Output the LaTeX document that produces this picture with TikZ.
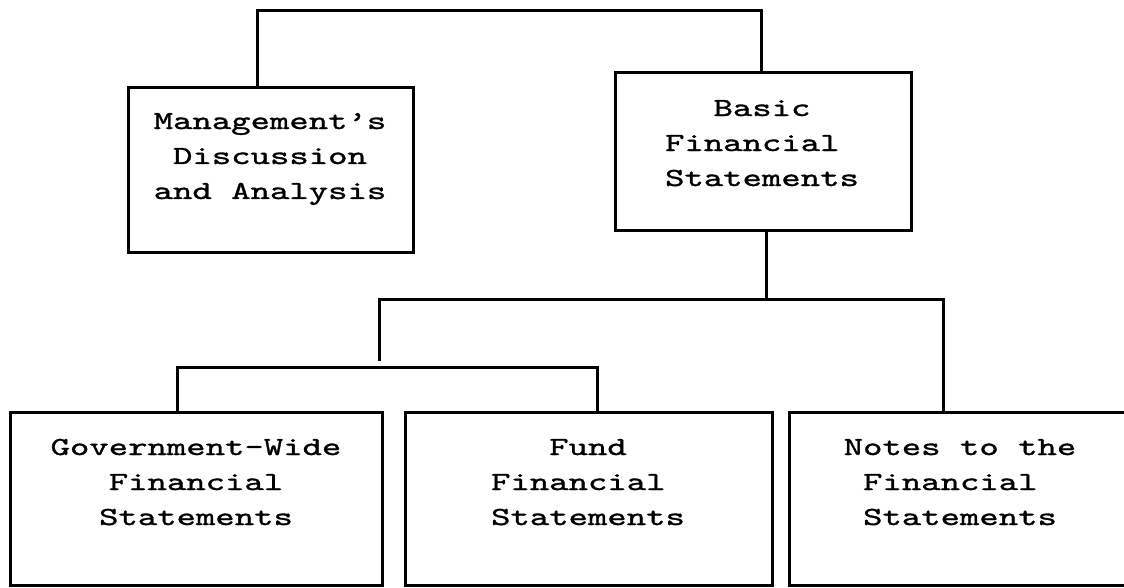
\documentclass[tikz,border=0pt]{standalone}
\usepackage{fontspec}
\newfontfamily\monoft{lmmono10-regular.otf}[FakeStretch=1.42,FakeBold=1.2]
\begin{document}
\begin{tikzpicture}[x=1pt,y=-1pt,
  box/.style={draw, line width=3pt, rectangle, inner sep=0pt},
  txt/.style={font=\monoft\fontsize{26}{35}\selectfont, align=center, inner sep=0pt, anchor=base},
  conn/.style={line width=3pt}]
\useasboundingbox (0,0) rectangle (1124,588);
\fill[white] (0,0) rectangle (1124,588);
% boxes
\node[box, minimum width=285pt, minimum height=164pt] (mda) at (270.5,170) {};
\node[box, minimum width=296pt, minimum height=157pt] (bfs) at (763,151.5) {};
\node[box, minimum width=372pt, minimum height=173pt] (gov) at (196,498.5) {};
\node[box, minimum width=367pt, minimum height=173pt] (fund) at (588.5,498.5) {};
\node[box, minimum width=342pt, minimum height=173pt] (notes) at (960,498.5) {};
% texts (anchored at the baseline of the last line)
\node[txt] (mdat) at (270,199) {Management’s\\Discussion\\and Analysis};
\node[txt] (bfst) at (762,186) {Basic\\Financial\hphantom{x}\\Statements};
\node[txt] (govt) at (196,525) {Government-Wide\\Financial\\Statements};
\node[txt] (fundt) at (588,525) {Fund\\Financial\hphantom{x}\\Statements};
\node[txt] (notest) at (960,525) {Notes to the\\Financial\hphantom{x}\\Statements};
% connector corners
\coordinate (t1) at (257,11);
\coordinate (t2) at (761,11);
\coordinate (b) at (766,299);
\coordinate (h1) at (379,299);
\coordinate (h2) at (943,299);
\coordinate (g) at (379,361);
\coordinate (k1) at (177,367);
\coordinate (k2) at (597,367);
% connectors
\draw[conn] (t1 |- mda.north) -- (t1) -- (t2) -- (t2 |- bfs.north);
\draw[conn] (b |- bfs.south) -- (b);
\draw[conn] (g) -- (h1) -- (h2) -- (h2 |- notes.north);
\draw[conn] (k1 |- gov.north) -- (k1) -- (k2) -- (k2 |- fund.north);
\end{tikzpicture}
\end{document}
